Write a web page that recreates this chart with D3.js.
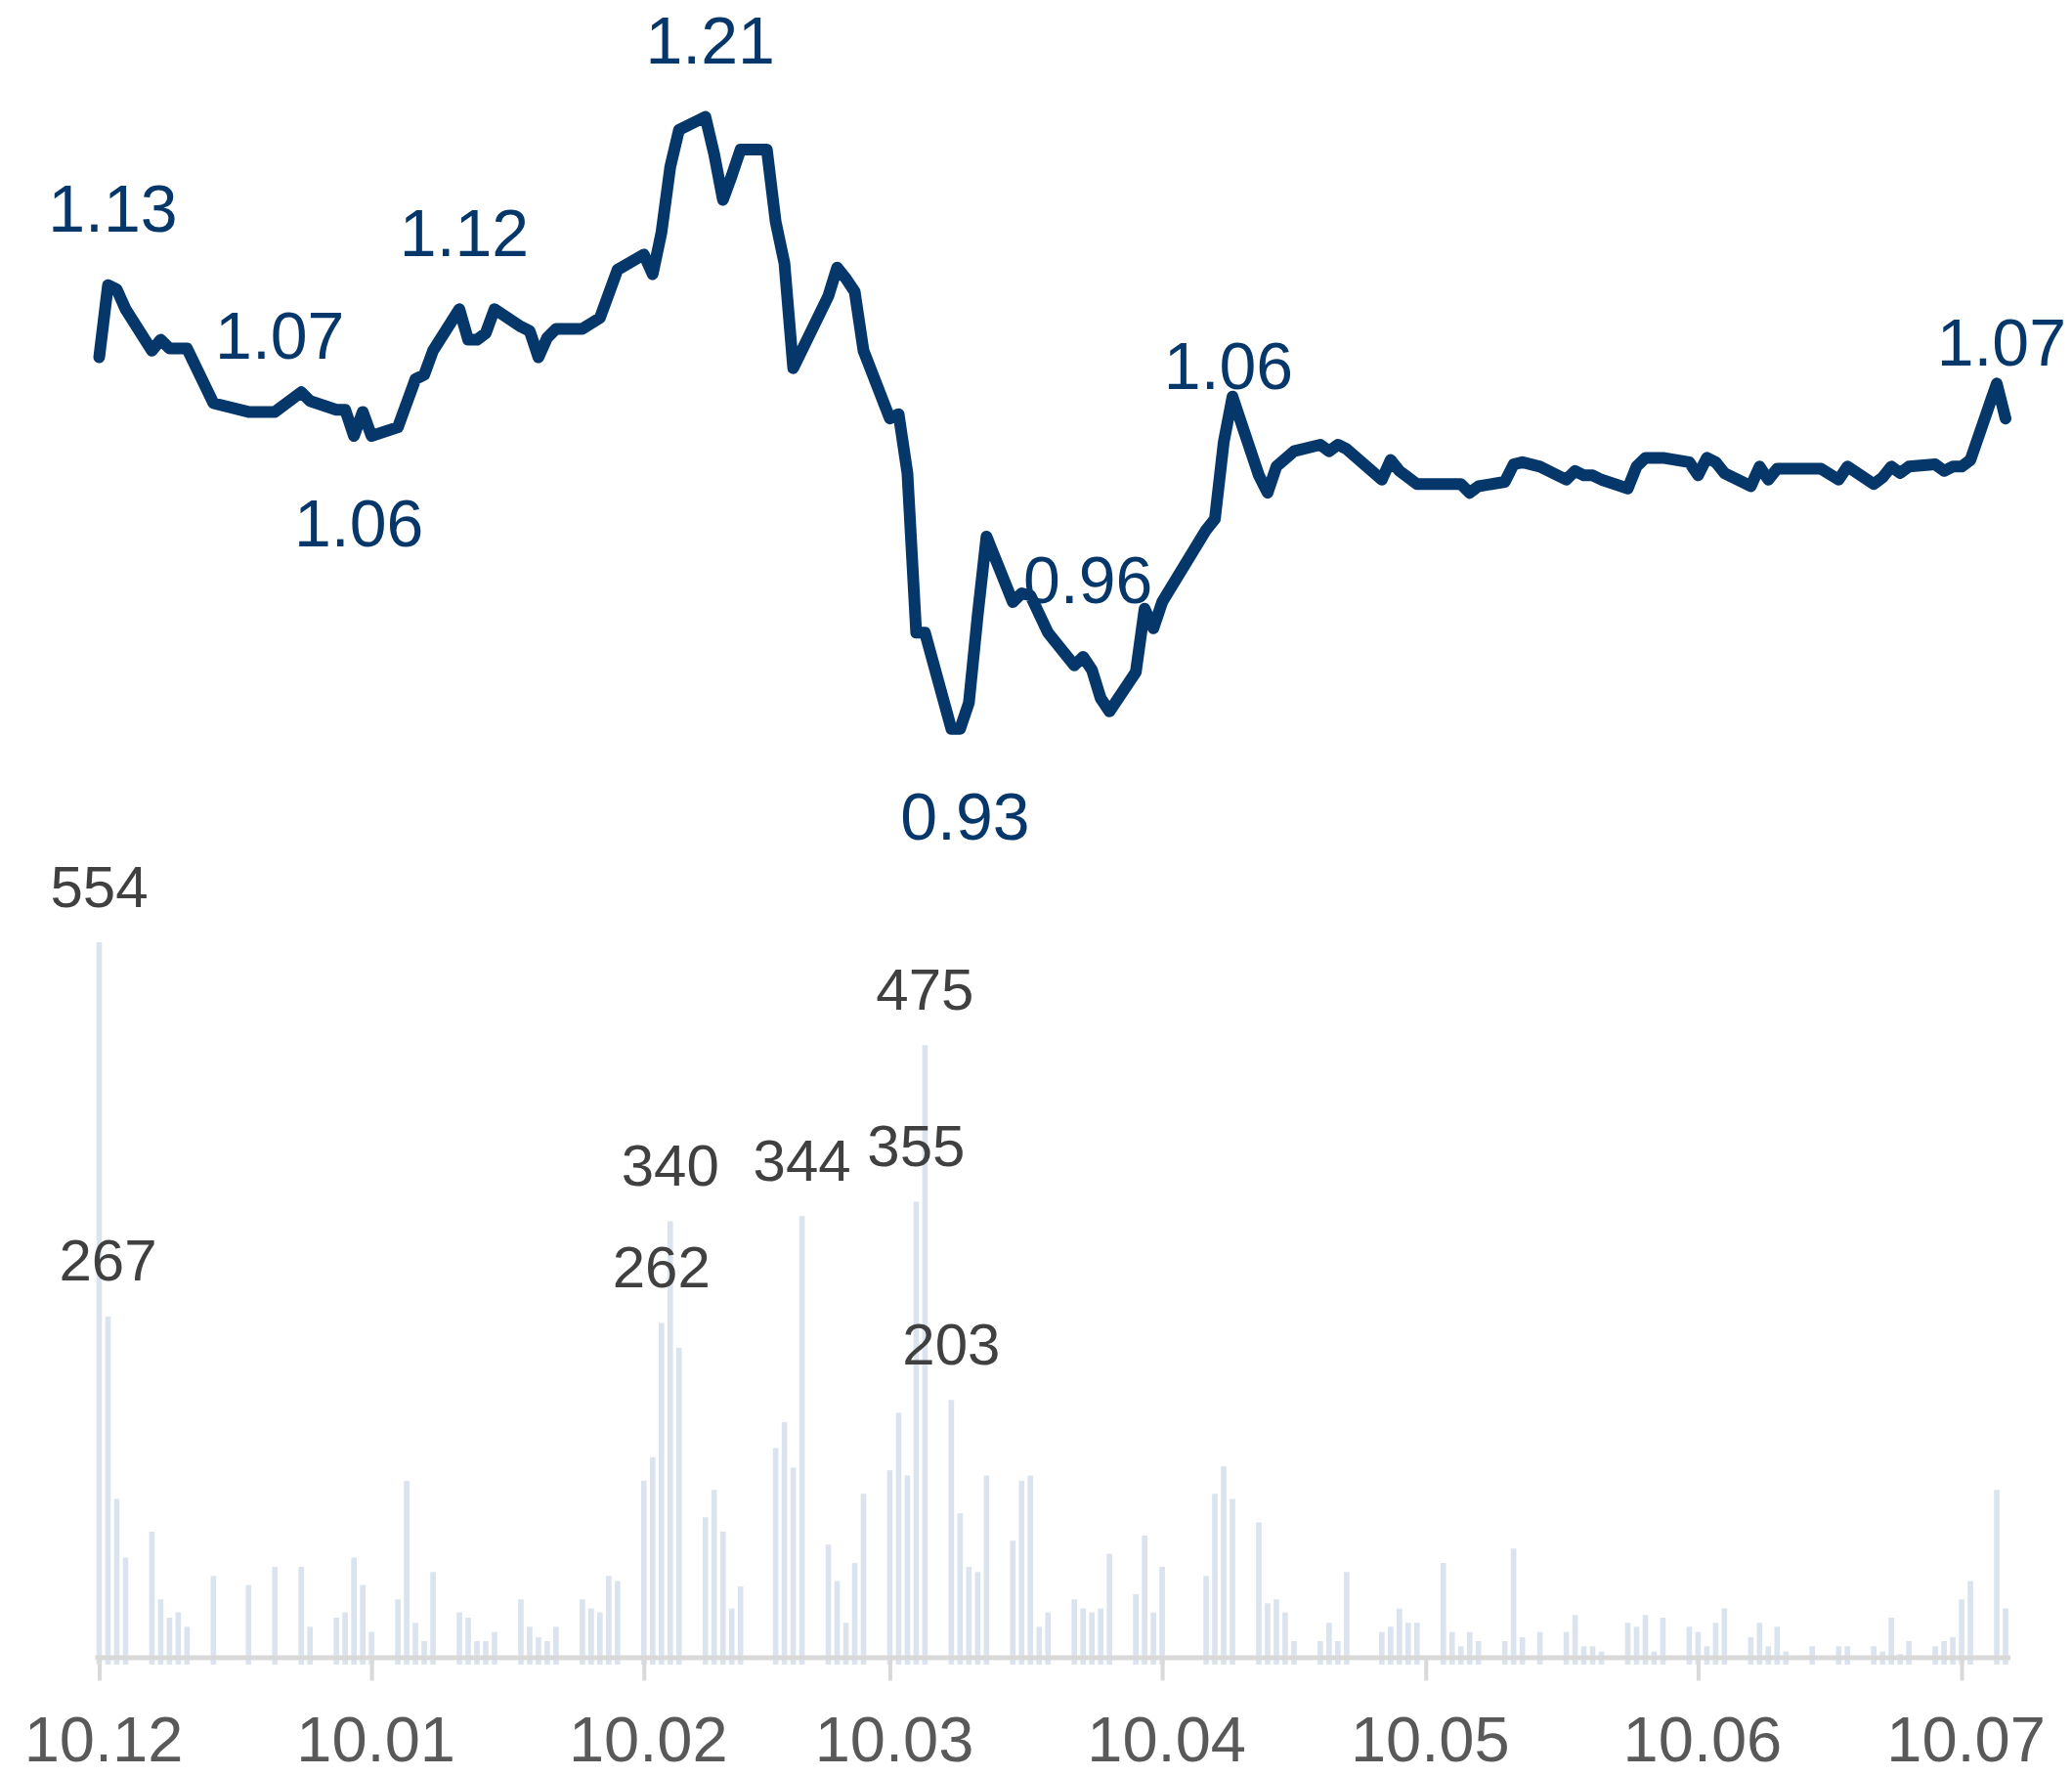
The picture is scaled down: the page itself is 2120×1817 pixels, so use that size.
<!DOCTYPE html>
<html><head><meta charset="utf-8">
<script src="https://cdn.jsdelivr.net/npm/d3@7"></script>
<style>html,body{margin:0;padding:0;background:#fff}svg{display:block}</style>
</head><body>
<svg id="chart" width="2120" height="1817"></svg>
<script>
// ---- price line (trading days) ----
const lineDates = [
"2009-12-01","2009-12-02","2009-12-03","2009-12-04","2009-12-07","2009-12-08","2009-12-09","2009-12-10","2009-12-11",
"2009-12-14","2009-12-18","2009-12-21","2009-12-24","2009-12-25","2009-12-28","2009-12-29","2009-12-30","2009-12-31",
"2010-01-01","2010-01-04","2010-01-05","2010-01-06","2010-01-07","2010-01-08","2010-01-11","2010-01-12","2010-01-13",
"2010-01-14","2010-01-15","2010-01-18","2010-01-19","2010-01-20","2010-01-21","2010-01-22","2010-01-25","2010-01-27",
"2010-01-28","2010-01-29","2010-02-01","2010-02-02","2010-02-03","2010-02-04","2010-02-05","2010-02-08","2010-02-09",
"2010-02-10","2010-02-11","2010-02-12","2010-02-15","2010-02-16","2010-02-17","2010-02-18","2010-02-22","2010-02-23",
"2010-02-24","2010-02-25","2010-02-26","2010-03-01","2010-03-02","2010-03-03","2010-03-04","2010-03-05","2010-03-08",
"2010-03-09","2010-03-10","2010-03-11","2010-03-12","2010-03-15","2010-03-16","2010-03-17","2010-03-19","2010-03-22",
"2010-03-23","2010-03-24","2010-03-25","2010-03-26","2010-03-29","2010-03-30","2010-03-31","2010-04-01","2010-04-06",
"2010-04-07","2010-04-08","2010-04-09","2010-04-12","2010-04-13","2010-04-14","2010-04-16","2010-04-19","2010-04-20",
"2010-04-21","2010-04-22","2010-04-26","2010-04-27","2010-04-28","2010-04-30","2010-05-05","2010-05-06","2010-05-07",
"2010-05-10","2010-05-11","2010-05-12","2010-05-14","2010-05-17","2010-05-18","2010-05-19","2010-05-20","2010-05-21",
"2010-05-24","2010-05-25","2010-05-26","2010-05-28","2010-05-31","2010-06-01","2010-06-02","2010-06-03","2010-06-04",
"2010-06-07","2010-06-08","2010-06-09","2010-06-10","2010-06-15","2010-06-17","2010-06-18","2010-06-21","2010-06-22",
"2010-06-23","2010-06-24","2010-06-25","2010-06-28","2010-06-29","2010-06-30","2010-07-01","2010-07-02","2010-07-05",
"2010-07-06"];
const lineValues = [
1.100,1.133,1.131,1.122,1.103,1.108,1.104,1.104,1.104,
1.079,1.075,1.075,1.084,1.080,1.076,1.076,1.064,1.075,
1.064,1.068,1.079,1.090,1.092,1.103,1.122,1.108,1.108,
1.111,1.122,1.114,1.112,1.100,1.109,1.113,1.113,1.118,
1.129,1.140,1.147,1.138,1.157,1.187,1.204,1.210,1.193,
1.172,1.183,1.195,1.195,1.162,1.143,1.095,1.128,1.141,
1.136,1.130,1.103,1.072,1.074,1.047,0.974,0.974,0.930,
0.930,0.942,0.982,1.018,0.988,0.992,0.991,0.974,0.959,
0.963,0.957,0.944,0.938,0.956,0.985,0.976,0.988,1.021,
1.026,1.061,1.082,1.046,1.038,1.050,1.057,1.060,1.057,
1.060,1.058,1.044,1.053,1.048,1.042,1.042,1.038,1.041,
1.043,1.051,1.052,1.050,1.044,1.048,1.046,1.046,1.044,
1.040,1.050,1.054,1.054,1.052,1.046,1.054,1.052,1.047,
1.041,1.050,1.044,1.049,1.049,1.044,1.050,1.042,1.045,
1.050,1.047,1.050,1.051,1.048,1.050,1.050,1.053,1.088,
1.072];

// ---- annotated prices ----
const priceLabelDates = ["2009-12-02","2009-12-21","2009-12-30","2010-01-11","2010-02-08","2010-03-09","2010-03-23","2010-04-08","2010-07-06"];
const priceLabelTexts = ["1.13","1.07","1.06","1.12","1.21","0.93","0.96","1.06","1.07"];
const priceLabelSides = ["above","above","below","above","above","below","above","above","above"];

// ---- volume bars ----
const volDates = [
"2009-12-01","2009-12-02","2009-12-03","2009-12-04","2009-12-07","2009-12-08","2009-12-09","2009-12-10","2009-12-11",
"2009-12-14","2009-12-18","2009-12-21","2009-12-24","2009-12-25","2009-12-28","2009-12-29","2009-12-30","2009-12-31",
"2010-01-01","2010-01-04","2010-01-05","2010-01-06","2010-01-07","2010-01-08","2010-01-11","2010-01-12","2010-01-13",
"2010-01-14","2010-01-15","2010-01-18","2010-01-19","2010-01-20","2010-01-21","2010-01-22","2010-01-25","2010-01-26",
"2010-01-27","2010-01-28","2010-01-29","2010-02-01","2010-02-02","2010-02-03","2010-02-04","2010-02-05","2010-02-08",
"2010-02-09","2010-02-10","2010-02-11","2010-02-12","2010-02-16","2010-02-17","2010-02-18","2010-02-19","2010-02-22",
"2010-02-23","2010-02-24","2010-02-25","2010-02-26","2010-03-01","2010-03-02","2010-03-03","2010-03-04","2010-03-05",
"2010-03-08","2010-03-09","2010-03-10","2010-03-11","2010-03-12","2010-03-15","2010-03-16","2010-03-17","2010-03-18",
"2010-03-19","2010-03-22","2010-03-23","2010-03-24","2010-03-25","2010-03-26","2010-03-29","2010-03-30","2010-03-31",
"2010-04-01","2010-04-06","2010-04-07","2010-04-08","2010-04-09","2010-04-12","2010-04-13","2010-04-14","2010-04-15",
"2010-04-16","2010-04-19","2010-04-20","2010-04-21","2010-04-22","2010-04-26","2010-04-27","2010-04-28","2010-04-29",
"2010-04-30","2010-05-03","2010-05-04","2010-05-05","2010-05-06","2010-05-07","2010-05-10","2010-05-11","2010-05-12",
"2010-05-14","2010-05-17","2010-05-18","2010-05-19","2010-05-20","2010-05-21","2010-05-24","2010-05-25","2010-05-26",
"2010-05-27","2010-05-28","2010-05-31","2010-06-01","2010-06-02","2010-06-03","2010-06-04","2010-06-07","2010-06-08",
"2010-06-09","2010-06-10","2010-06-11","2010-06-14","2010-06-17","2010-06-18","2010-06-21","2010-06-22","2010-06-23",
"2010-06-24","2010-06-25","2010-06-28","2010-06-29","2010-06-30","2010-07-01","2010-07-02","2010-07-05","2010-07-06"];
const volValues = [
554,267,127,82,102,50,36,40,29,
68,61,75,75,29,36,40,82,61,
25,50,141,32,18,71,40,36,18,
18,25,50,29,21,18,29,50,43,
40,68,64,141,159,262,340,243,113,
134,102,43,60,166,186,151,344,92,
64,32,78,131,149,193,145,355,475,
203,116,75,71,145,95,141,145,29,
40,50,43,40,43,85,54,99,40,
75,68,131,152,127,109,47,50,40,
18,18,32,18,71,25,29,43,32,
32,78,25,14,25,18,18,89,21,
25,25,38,14,14,10,32,29,38,
10,36,29,25,14,32,43,21,32,
14,29,10,14,14,14,14,10,36,
8,18,14,18,21,50,64,134,43];
const volLabelDates = ["2009-12-01","2009-12-02","2010-02-03","2010-02-04","2010-02-19","2010-03-04","2010-03-05","2010-03-08"];

// ---- axis ----
const tickDates = ["2009-12-01","2010-01-01","2010-02-01","2010-03-01","2010-04-01","2010-05-01","2010-06-01","2010-07-01"];
const tickLabels = ["10.12","10.01","10.02","10.03","10.04","10.05","10.06","10.07"];

const parse = d3.utcParse("%Y-%m-%d");
const FONT = "'Liberation Sans', Arial, Helvetica, sans-serif";
const LINE_COLOR = "#06376a";
const BAR_COLOR = "#dae3ee";
const W = 2120, H = 1817;

const svg = d3.select("#chart");
svg.append("rect").attr("width",W).attr("height",H).attr("fill","#fff");

const x = d3.scaleUtc()
  .domain([new Date(Date.UTC(2009,10,30,12)), new Date(Date.UTC(2010,6,6,12))])
  .range([97, 2056.5]);
const yLine = d3.scaleLinear().domain([0.93, 1.21]).range([745.7, 119.5]);
const yVol = d3.scaleLinear().domain([0, 554]).range([1703, 964]);

const bars = volDates.map((d,i)=>({date:parse(d), v:volValues[i]}));
const pts = lineDates.map((d,i)=>({date:parse(d), v:lineValues[i]}));

// bars
svg.append("g").selectAll("rect").data(bars).join("rect")
  .attr("x", d=>x(d.date)-2.8)
  .attr("width", 5.6)
  .attr("y", d=>yVol(d.v))
  .attr("height", d=>yVol(0)-yVol(d.v))
  .attr("fill", BAR_COLOR);

// bar labels
const volLabelSet = new Set(volLabelDates);
svg.append("g").selectAll("text").data(bars.filter((d,i)=>volLabelSet.has(volDates[i]))).join("text")
  .attr("x", d=>x(d.date))
  .attr("y", d=>yVol(d.v)-36.5)
  .attr("text-anchor","middle")
  .attr("font-family",FONT)
  .attr("font-size",60)
  .attr("fill","#404040")
  .text(d=>d.v);

// axis
const axis = d3.axisBottom(x)
  .tickValues(tickDates.map(parse))
  .tickFormat((d,i)=>tickLabels[i])
  .tickSizeInner(24).tickSizeOuter(0).tickPadding(36);
const ga = svg.append("g").attr("transform","translate(0,1695.5)").call(axis);
ga.select(".domain").attr("stroke","#d9d9d9").attr("stroke-width",5);
ga.selectAll(".tick line").attr("stroke","#d9d9d9").attr("stroke-width",4);
ga.selectAll(".tick text").attr("font-family",FONT).attr("font-size",65).attr("fill","#595959").attr("dx",4);

// line
svg.append("path").datum(pts)
  .attr("d", d3.line().x(d=>x(d.date)).y(d=>yLine(d.v)))
  .attr("fill","none").attr("stroke",LINE_COLOR)
  .attr("stroke-width",12).attr("stroke-linejoin","round").attr("stroke-linecap","round");

// price labels
const priceLabels = priceLabelDates.map((d,i)=>{
  const idx = lineDates.indexOf(d);
  return {date:parse(d), v:lineValues[idx], text:priceLabelTexts[i], side:priceLabelSides[i]};
});
svg.append("g").selectAll("text").data(priceLabels).join("text")
  .attr("x", d=>x(d.date)+5)
  .attr("y", d=>d.side==="above" ? yLine(d.v)-54.5 : yLine(d.v)+113)
  .attr("text-anchor","middle")
  .attr("font-family",FONT)
  .attr("font-size",68)
  .attr("fill",LINE_COLOR)
  .text(d=>d.text)
  .each(function(){
    // keep label inside the canvas
    const b = this.getBBox();
    const over = b.x + b.width - (W - 6);
    if (over > 0) d3.select(this).attr("x", +d3.select(this).attr("x") - over);
  });
</script>
</body></html>
